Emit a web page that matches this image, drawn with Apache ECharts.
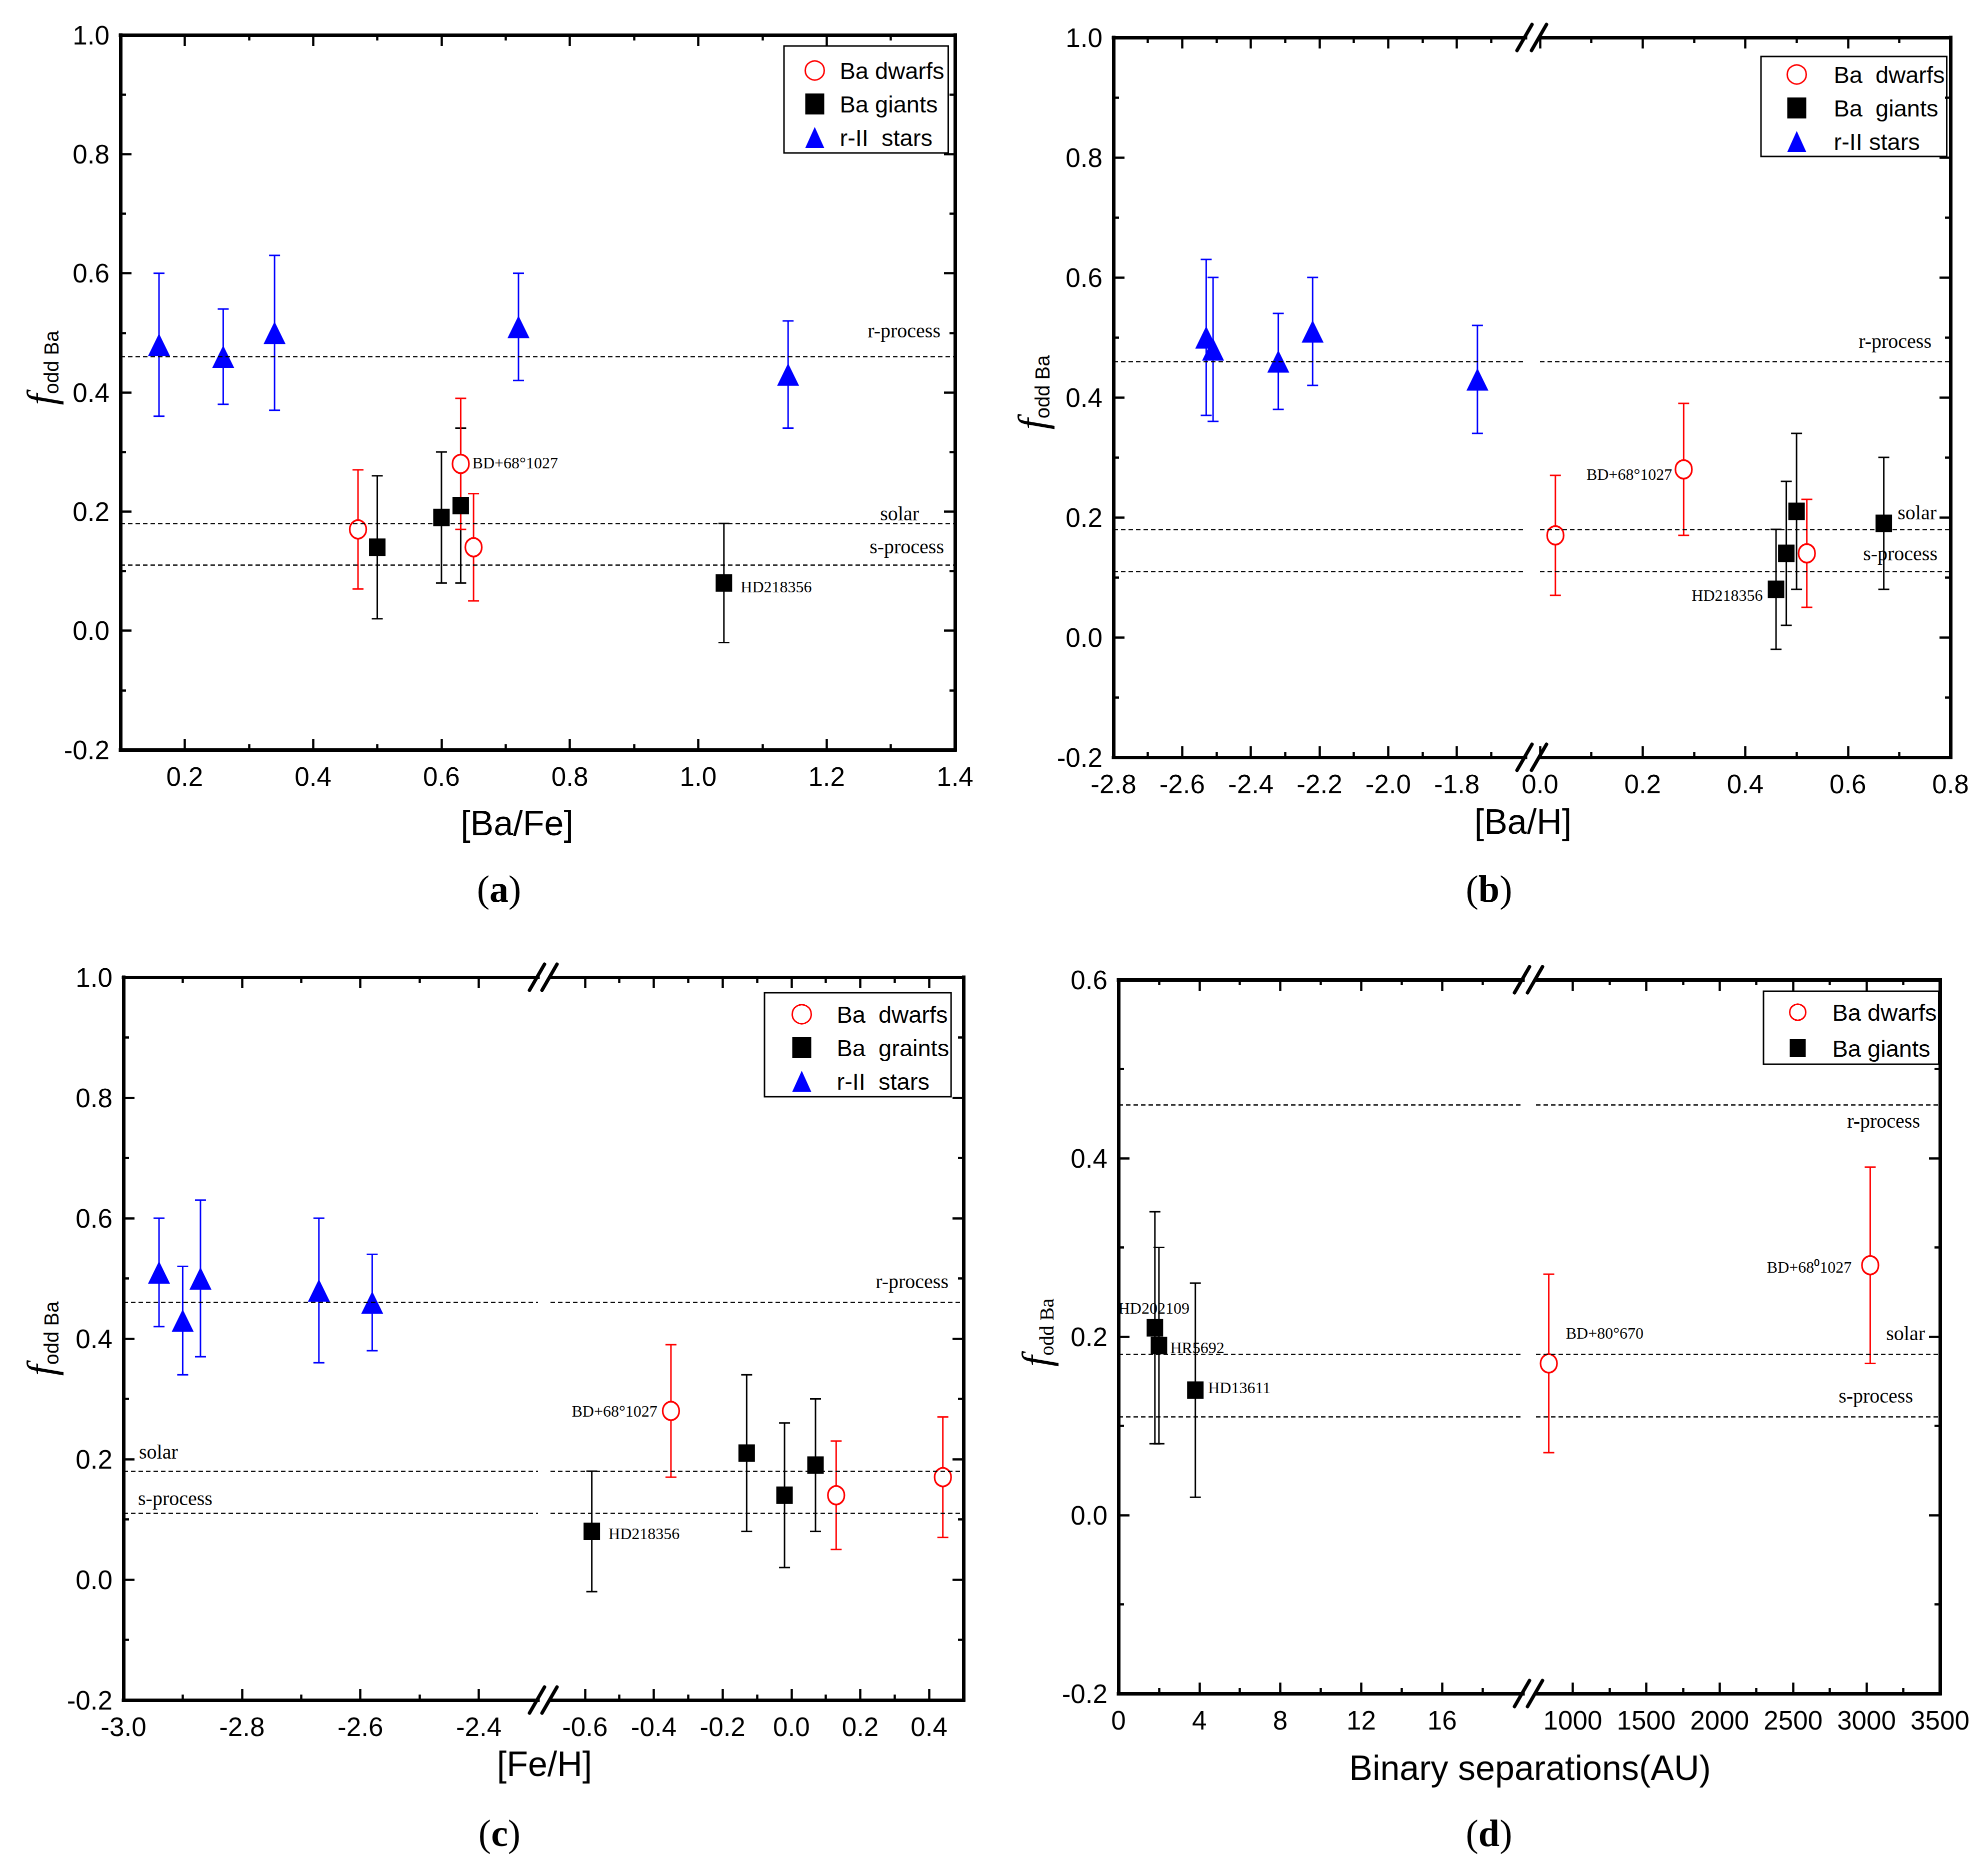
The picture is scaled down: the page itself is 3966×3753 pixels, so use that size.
<!DOCTYPE html>
<html><head><meta charset="utf-8">
<script src="https://cdn.jsdelivr.net/npm/echarts@6/dist/echarts.min.js"></script>
<style>html,body{margin:0;padding:0;background:#fff}#c{width:3966px;height:3753px}</style>
</head><body><div id="c"></div>
<script>
// ================= DATA =================
const groupNames = ['Ba dwarfs', 'Ba giants', 'r-II stars'];

// r-II stars
const rII_y    = [0.48, 0.46, 0.50, 0.51, 0.43];
const rII_err  = [0.12, 0.08, 0.13, 0.09, 0.09];
const rII_BaFe = [0.16, 0.26, 0.34, 0.72, 1.14];
const rII_BaH  = [-2.51, -2.32, -2.53, -2.22, -1.74];
const rII_FeH  = [-2.67, -2.58, -2.87, -2.94, -2.90];

// Ba giants
const giant_y    = [0.14, 0.19, 0.21, 0.08];
const giant_err  = [0.12, 0.11, 0.13, 0.10];
const giant_BaFe = [0.50, 0.60, 0.63, 1.04];
const giant_BaH  = [0.48, 0.67, 0.50, 0.46];
const giant_FeH  = [-0.02, 0.07, -0.13, -0.58];
const giant_names = ['', '', '', 'HD218356'];

// Ba dwarfs
const dwarf_y    = [0.17, 0.28, 0.14];
const dwarf_err  = [0.10, 0.11, 0.09];
const dwarf_BaFe = [0.47, 0.63, 0.65];
const dwarf_BaH  = [0.03, 0.28, 0.52];
const dwarf_FeH  = [0.44, -0.35, 0.13];
const dwarf_names = ['', 'BD+68°1027', ''];

// panel (d): binary separations
const sepGiant_x = [1.8, 2.0, 3.8];
const sepGiant_y = [0.21, 0.19, 0.14];
const sepGiant_err = [0.13, 0.11, 0.12];
const sepGiant_names = ['HD202109', 'HR5692', 'HD13611'];
const sepDwarf_x = [837, 3025];
const sepDwarf_y = [0.17, 0.28];
const sepDwarf_err = [0.10, 0.11];
const sepDwarf_names = ['BD+80°670', 'BD+68⁰1027'];

// reference levels
const refLevels = [0.46, 0.18, 0.11];
const refNames = ['r-process', 'solar', 's-process'];

// tick values
const yTicks1 = [-0.2, 0, 0.2, 0.4, 0.6, 0.8, 1.0];
const yMinor1 = [-0.1, 0.1, 0.3, 0.5, 0.7, 0.9];
const yTicksD = [-0.2, 0, 0.2, 0.4, 0.6];
const yMinorD = [-0.1, 0.1, 0.3, 0.5];
const xTicksA = [0.2, 0.4, 0.6, 0.8, 1.0, 1.2, 1.4];
const xMinorA = [0.3, 0.5, 0.7, 0.9, 1.1, 1.3];
const xTicksB1 = [-2.8, -2.6, -2.4, -2.2, -2.0, -1.8];
const xMinorB1 = [-2.7, -2.5, -2.3, -2.1, -1.9, -1.7];
const xTicksB2 = [0.0, 0.2, 0.4, 0.6, 0.8];
const xMinorB2 = [0.1, 0.3, 0.5, 0.7];
const xTicksC1 = [-3.0, -2.8, -2.6, -2.4];
const xMinorC1 = [-2.9, -2.7, -2.5];
const xTicksC2 = [-0.6, -0.4, -0.2, 0.0, 0.2, 0.4];
const xMinorC2 = [-0.5, -0.3, -0.1, 0.1, 0.3];
const xTicksD1 = [0, 4, 8, 12, 16];
const xMinorD1 = [2, 6, 10, 14, 18];
const xTicksD2 = [1000, 1500, 2000, 2500, 3000, 3500];
const xMinorD2 = [1250, 1750, 2250, 2750, 3250];

// texts
const xTitles = ['[Ba/Fe]', '[Ba/H]', '[Fe/H]', 'Binary separations(AU)'];
const panelTags = ['a', 'b', 'c', 'd'];
const legendTexts = {
  a: ['Ba dwarfs', 'Ba giants', 'r-II\u00a0 stars'],
  b: ['Ba\u00a0 dwarfs', 'Ba\u00a0 giants', 'r-II stars'],
  c: ['Ba\u00a0 dwarfs', 'Ba\u00a0 graints', 'r-II\u00a0 stars'],
  d: ['Ba dwarfs', 'Ba giants']
};

// ================= STYLE / LAYOUT =================
const SANS = "'Liberation Sans', Arial, sans-serif";
const SERIF = "'Liberation Serif', 'Times New Roman', serif";

const GROUPS = {
  dwarf: {name: groupNames[0], color: '#ff0000', symbol: 'circle', size: [33, 37], fill: '#ffffff', borderWidth: 3.5},
  giant: {name: groupNames[1], color: '#000000', symbol: 'rect', size: [33, 35], fill: '#000000', borderWidth: 0},
  rII:   {name: groupNames[2], color: '#0000ff', symbol: 'triangle', size: [44, 45], fill: '#0000ff', borderWidth: 0}
};

const fmt1 = v => v.toFixed(1);
const fmt0 = v => String(Math.round(v));

const panels = [
  { id: 'a', top: 70, bottom: 1500, y: [-0.2, 1.0], yT: yTicks1, yM: yMinor1, xFmt: fmt1,
    grids: [{left: 241, right: 1910, x: [0.1, 1.4], xT: xTicksA, xM: xMinorA}],
    groups: [
      ['rII', rII_BaFe, rII_y, rII_err, null],
      ['giant', giant_BaFe, giant_y, giant_err, giant_names],
      ['dwarf', dwarf_BaFe, dwarf_y, dwarf_err, dwarf_names]],
    labelPlace: {'BD+68°1027': {position: 'right', distance: 5, offset: [0, -2]},
                 'HD218356': {position: 'right', distance: 17, offset: [0, 8]}},
    refLabels: [{g: 0, position: 'insideEndTop', distance: [29, 32]},
                {g: 0, position: 'insideEndTop', distance: [72, 0]},
                {g: 0, position: 'insideEndTop', distance: [22, 17]}],
    yName: {gap: 118, pad: 98, subFont: SANS},
    title: [1034, 1647], tag: [998, 1778],
    legend: {left: 1568, top: 92, padding: [20, 8, 2, 41], itemWidth: 38, itemHeight: 42, itemGap: 9, textPad: 26}
  },
  { id: 'b', top: 75, bottom: 1515, y: [-0.2, 1.0], yT: yTicks1, yM: yMinor1, xFmt: fmt1,
    grids: [{left: 2227, right: 3051, x: [-2.8, -1.6], xT: xTicksB1, xM: xMinorB1},
            {left: 3080, right: 3901, x: [0.0, 0.8], xT: xTicksB2, xM: xMinorB2}],
    groups: [
      ['rII', rII_BaH, rII_y, rII_err, null],
      ['giant', giant_BaH, giant_y, giant_err, giant_names],
      ['dwarf', dwarf_BaH, dwarf_y, dwarf_err, dwarf_names]],
    labelPlace: {'BD+68°1027': {position: 'left', distance: 5, offset: [0, 10]},
                 'HD218356': {position: 'left', distance: 10, offset: [0, 12]}},
    refLabels: [{g: 1, position: 'insideEndTop', distance: [38, 21]},
                {g: 1, position: 'insideEndTop', distance: [28, 14]},
                {g: 1, position: 'insideEndTop', distance: [26, 16]}],
    yName: {gap: 122, pad: 20, subFont: SANS},
    title: [3046, 1644], tag: [2978, 1778],
    legend: {left: 3522, top: 113, padding: [7, 4, 1, 51], itemWidth: 38, itemHeight: 42, itemGap: 9, textPad: 50}
  },
  { id: 'c', top: 1955, bottom: 3401, y: [-0.2, 1.0], yT: yTicks1, yM: yMinor1, xFmt: fmt1,
    grids: [{left: 247, right: 1076, x: [-3.0, -2.3], xT: xTicksC1, xM: xMinorC1},
            {left: 1101, right: 1927, x: [-0.7, 0.5], xT: xTicksC2, xM: xMinorC2}],
    groups: [
      ['rII', rII_FeH, rII_y, rII_err, null],
      ['giant', giant_FeH, giant_y, giant_err, giant_names],
      ['dwarf', dwarf_FeH, dwarf_y, dwarf_err, dwarf_names]],
    labelPlace: {'BD+68°1027': {position: 'left', distance: 9, offset: [0, 0]},
                 'HD218356': {position: 'right', distance: 17, offset: [0, 4]}},
    refLabels: [{g: 1, position: 'insideEndTop', distance: [30, 22]},
                {g: 0, position: 'insideStartTop', distance: [31, 19]},
                {g: 0, position: 'insideStartTop', distance: [29, 10]}],
    yName: {gap: 124, pad: 0, subFont: SANS},
    title: [1089, 3529], tag: [999, 3667],
    legend: {left: 1529, top: 1986, padding: [14, 4, 2, 54], itemWidth: 38, itemHeight: 42, itemGap: 9, textPad: 46}
  },
  { id: 'd', top: 1960, bottom: 3388, y: [-0.2, 0.6], yT: yTicksD, yM: yMinorD, xFmt: fmt0,
    grids: [{left: 2237, right: 3046, x: [0, 20], xT: xTicksD1, xM: xMinorD1},
            {left: 3072, right: 3880, x: [750, 3500], xT: xTicksD2, xM: xMinorD2}],
    groups: [
      ['giant', sepGiant_x, sepGiant_y, sepGiant_err, sepGiant_names],
      ['dwarf', sepDwarf_x, sepDwarf_y, sepDwarf_err, sepDwarf_names]],
    labelPlace: {'HD202109': {position: 'top', distance: 6, offset: [-2, 0]},
                 'HR5692': {position: 'right', distance: 6, offset: [0, 4]},
                 'HD13611': {position: 'right', distance: 9, offset: [0, -5]},
                 'BD+80°670': {position: 'right', distance: 16, offset: [0, -61]},
                 'BD+68⁰1027': {position: 'left', distance: 19, offset: [0, 4]}},
    refLabels: [{g: 1, position: 'insideEndBottom', distance: [40, 13]},
                {g: 1, position: 'insideEndTop', distance: [30, 22]},
                {g: 1, position: 'insideEndTop', distance: [54, 22]}],
    yName: {gap: 124, pad: 16, subFont: SERIF},
    title: [3060, 3537], tag: [2978, 3667],
    legend: {left: 3527, top: 1983, padding: [13, 4, 3, 51], itemWidth: 32, itemHeight: 36, itemGap: 14, textPad: 48}
  }
];

// ================= BUILD =================
const grids = [], xAxes = [], yAxes = [], series = [], legends = [], graphics = [];

function mkAxis(gi, pos, range, vals, isMajor, visible, withLabels, fmt) {
  const isY = (pos === 'left' || pos === 'right');
  return {
    type: 'value', gridIndex: gi, position: pos, min: range[0], max: range[1],
    axisLine: {show: isMajor && visible, onZero: false, lineStyle: {color: '#000', width: 7, cap: 'square'}},
    axisTick: {show: visible, inside: true, length: isMajor ? 22 : 11, customValues: vals,
               lineStyle: {color: '#000', width: 4.5}},
    axisLabel: {show: !!withLabels, customValues: vals, formatter: fmt, margin: isY ? 22 : 27,
                color: '#000', fontSize: 53, fontFamily: SANS},
    splitLine: {show: false}, splitArea: {show: false},
    minorTick: {show: false}, minorSplitLine: {show: false},
    nameMoveOverlap: false, z: 10
  };
}

function errorBarRender(color) {
  return function (params, api) {
    const x = api.value(0), lo = api.value(1), hi = api.value(2);
    const pl = api.coord([x, lo]), ph = api.coord([x, hi]);
    const cw = 11;
    const st = {stroke: color, lineWidth: 3};
    return {type: 'group', children: [
      {type: 'line', shape: {x1: pl[0], y1: pl[1], x2: ph[0], y2: ph[1]}, style: st},
      {type: 'line', shape: {x1: ph[0] - cw, y1: ph[1], x2: ph[0] + cw, y2: ph[1]}, style: st},
      {type: 'line', shape: {x1: pl[0] - cw, y1: pl[1], x2: pl[0] + cw, y2: pl[1]}, style: st}
    ]};
  };
}

panels.forEach((P, pi) => {
  const nG = P.grids.length;
  P.grids.forEach((G, k) => {
    const gi = grids.length;
    grids.push({left: G.left, top: P.top, width: G.right - G.left, height: P.bottom - P.top,
                containLabel: false, outerBoundsMode: 'none', show: false});
    const first = k === 0, last = k === nG - 1;
    const xi = xAxes.length;
    xAxes.push(mkAxis(gi, 'bottom', G.x, G.xT, true, true, true, P.xFmt));
    xAxes.push(mkAxis(gi, 'bottom', G.x, G.xM, false, true, false));
    xAxes.push(mkAxis(gi, 'top', G.x, G.xT, true, true, false));
    xAxes.push(mkAxis(gi, 'top', G.x, G.xM, false, true, false));
    const yi = yAxes.length;
    const yl = mkAxis(gi, 'left', P.y, P.yT, true, first, first, fmt1);
    if (first) {
      Object.assign(yl, {
        name: '{f|f}{s|odd Ba}', nameLocation: 'middle', nameRotate: 90, nameGap: P.yName.gap,
        nameTextStyle: {padding: [0, 0, 0, P.yName.pad], rich: {
          f: {fontFamily: SERIF, fontStyle: 'italic', fontSize: 80, lineHeight: 80, color: '#000'},
          s: {fontFamily: P.yName.subFont, fontSize: 40, lineHeight: 22, verticalAlign: 'bottom', color: '#000'}
        }}
      });
    }
    yAxes.push(yl);
    yAxes.push(mkAxis(gi, 'left', P.y, P.yM, false, first, false));
    yAxes.push(mkAxis(gi, 'right', P.y, P.yT, true, last, false));
    yAxes.push(mkAxis(gi, 'right', P.y, P.yM, false, last, false));

    // reference dashed lines
    const mlData = refLevels.map((v, j) => {
      const rl = P.refLabels[j];
      const show = rl.g === k;
      return {yAxis: v, name: refNames[j],
        label: {show: show, formatter: '{b}', position: rl.position, distance: rl.distance,
                fontFamily: SERIF, fontSize: 40, color: '#000'}};
    });
    series.push({type: 'scatter', name: 'ref', xAxisIndex: xi, yAxisIndex: yi, data: [], silent: true, z: 1,
      markLine: {silent: true, symbol: ['none', 'none'], animation: false,
        lineStyle: {color: '#000', width: 2.5, type: [9, 6]}, data: mlData}});

    // data groups
    P.groups.forEach(([key, xs, ys, es, names]) => {
      const S = GROUPS[key];
      const idx = xs.map((v, i) => i).filter(i => xs[i] >= G.x[0] && xs[i] <= G.x[1]);
      if (!idx.length) return;
      series.push({type: 'custom', name: S.name + ' err', xAxisIndex: xi, yAxisIndex: yi, z: 2, silent: true,
        renderItem: errorBarRender(S.color),
        data: idx.map(i => [xs[i], ys[i] - es[i], ys[i] + es[i]])});
      series.push({type: 'scatter', name: S.name, xAxisIndex: xi, yAxisIndex: yi, z: 3,
        symbol: S.symbol, symbolSize: S.size,
        itemStyle: {color: S.fill, borderColor: S.color, borderWidth: S.borderWidth, opacity: 1},
        label: {show: false},
        data: idx.map(i => {
          const item = {value: [xs[i], ys[i]]};
          const nm = names && names[i];
          if (nm) {
            item.name = nm;
            item.label = Object.assign({show: true, formatter: '{b}', fontFamily: SERIF, fontSize: 32, color: '#000'},
                                       P.labelPlace[nm] || {});
          }
          return item;
        })});
    });
  });

  // break marks
  if (nG === 2) {
    const xs = [P.grids[0].right - 2, P.grids[1].left - 2];
    [P.top, P.bottom].forEach(cy => xs.forEach(cx => graphics.push({
      type: 'line', z: 100, shape: {x1: cx - 15, y1: cy + 26, x2: cx + 15, y2: cy - 26},
      style: {stroke: '#000', lineWidth: 7, lineCap: 'round'}})));
  }

  // x title
  graphics.push({type: 'text', x: P.title[0], y: P.title[1], z: 100,
    style: {text: xTitles[pi], fontFamily: SANS, fontSize: 70, fill: '#000', align: 'center', verticalAlign: 'middle',
            textAlign: 'center', textVerticalAlign: 'middle'}});
  // panel tag
  graphics.push({type: 'text', x: P.tag[0], y: P.tag[1], z: 100,
    style: {text: '{p|(}{b|' + panelTags[pi] + '}{p|)}', align: 'center', verticalAlign: 'middle',
            textAlign: 'center', textVerticalAlign: 'middle', fill: '#000',
            rich: {p: {fontFamily: SERIF, fontSize: 76, fill: '#000', color: '#000'},
                   b: {fontFamily: SERIF, fontSize: 76, fontWeight: 'bold', fill: '#000', color: '#000'}}}});

  // legend
  const L = P.legend;
  const lt = legendTexts[P.id];
  const keys = P.id === 'd' ? ['dwarf', 'giant'] : ['dwarf', 'giant', 'rII'];
  const textMap = {};
  keys.forEach((kk, j) => { textMap[GROUPS[kk].name] = lt[j]; });
  legends.push({
    show: true, orient: 'vertical', left: L.left, top: L.top, padding: L.padding,
    itemWidth: L.itemWidth, itemHeight: L.itemHeight, itemGap: L.itemGap, symbolKeepAspect: false,
    backgroundColor: '#fff', borderColor: '#000', borderWidth: 3, selectedMode: false,
    formatter: name => textMap[name] || name,
    textStyle: {fontFamily: SANS, fontSize: 47, lineHeight: 58, color: '#000', padding: [0, 0, 0, L.textPad]},
    data: keys.map(kk => {
      const S = GROUPS[kk];
      return {name: S.name, icon: S.symbol, symbolKeepAspect: false,
        itemStyle: {color: S.fill, borderColor: S.color, borderWidth: S.borderWidth ? 3 : 0}};
    })
  });
});

const chart = echarts.init(document.getElementById('c'), null, {renderer: 'svg', width: 3966, height: 3753});
chart.setOption({
  animation: false,
  backgroundColor: '#ffffff',
  grid: grids, xAxis: xAxes, yAxis: yAxes, legend: legends, series: series,
  graphic: {elements: graphics}
});
</script>
</body></html>
